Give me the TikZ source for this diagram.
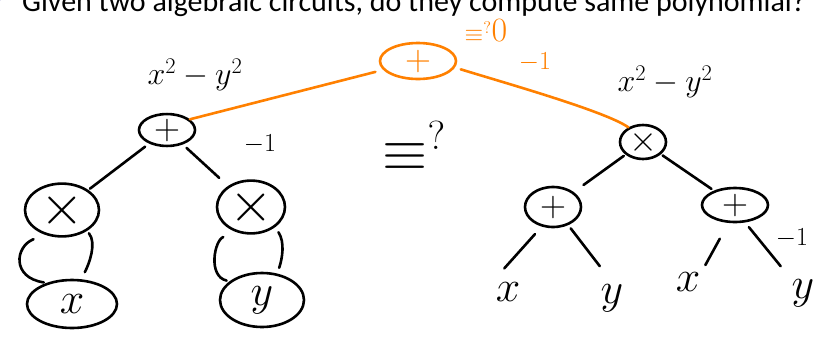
\RequirePackage{fix-cm}
\documentclass[tikz,border=0pt]{standalone}
\usepackage{amsmath}
\usepackage{amssymb}
\usepackage{xcolor}
\usepackage{fontspec}
\newfontfamily\slidefont{Carlito}
\usetikzlibrary{shapes.geometric, positioning, calc}

\definecolor{penorange}{RGB}{255,128,0}
\definecolor{bulletblue}{RGB}{50,50,150}

\tikzset{
  gate/.style={draw, ellipse, line width=2.6pt, inner sep=0pt, font=\fontsize{36}{36}\selectfont},
  wire/.style={line width=2.6pt, line cap=round},
  leaf/.style={inner sep=2pt, font=\fontsize{44}{44}\selectfont},
  poly/.style={inner sep=0pt, font=\fontsize{32}{32}\selectfont},
  weight/.style={inner sep=0pt, font=\fontsize{26}{26}\selectfont}
}

\begin{document}
\begin{tikzpicture}[x=1pt, y=-1pt]
\useasboundingbox (0,0) rectangle (814,338);

% slide line, cut at the top
\fill[bulletblue] (-10,-10) -- (4,-2) -- (-10,6) -- cycle;
\node[anchor=base west, inner sep=0pt, font=\slidefont\fontsize{30}{30}\selectfont] (question) at (22,11)
  {Given two algebraic circuits, do they compute same polynomial?};

% left circuit: x*x + (-1) y*y
\node[gate, minimum width=56, minimum height=30] (lplus) at (167,130) {$+$};
\node[poly] (lpoly) at (195,75) {$x^2-y^2$};
\node[gate, minimum width=74, minimum height=44, font=\fontsize{56}{56}\selectfont] (ltimesx) at (62,210) {$\times$};
\node[gate, minimum width=68, minimum height=40, font=\fontsize{56}{56}\selectfont] (ltimesy) at (251,207) {$\times$};
\node[gate, minimum width=90, minimum height=48, font=\fontsize{44}{44}\selectfont] (lx) at (72,304) {$x$};
\node[gate, minimum width=84, minimum height=54, font=\fontsize{44}{44}\selectfont] (ly) at (262,300) {$y$};
\node[weight] (lminus) at (260,144) {$-1$};

\draw[wire, shorten <=5pt, shorten >=2pt] (lplus) -- (ltimesx);
\draw[wire, shorten <=5pt, shorten >=12pt] (lplus) -- (ltimesy);
\draw[wire, shorten <=12pt, shorten >=3pt] (ltimesx.235) .. controls +(-30,12) and +(-35,-5) .. (lx.140);
\draw[wire, shorten <=3pt, shorten >=8pt] (ltimesx.320) .. controls +(10,12) and +(8,-15) .. (lx.70);
\draw[wire, shorten <=14pt, shorten >=3pt] (ltimesy.240) .. controls +(-22,8) and +(-22,-5) .. (ly.150);
\draw[wire, shorten <=6pt, shorten >=6pt] (ltimesy.320) .. controls +(10,15) and +(5,-15) .. (ly.60);

% middle
\node[inner sep=0pt, font=\fontsize{58}{58}\selectfont] (equiv) at (414,146) {$\equiv^{?}$};

% right circuit: (x+y)(x-y)
\node[gate, minimum width=46, minimum height=34] (rtimes) at (643,142) {$\times$};
\node[poly] (rpoly) at (665,82) {$x^2-y^2$};
\node[gate, minimum width=56, minimum height=40] (rplusa) at (553,207) {$+$};
\node[gate, minimum width=66, minimum height=34] (rplusb) at (735,205) {$+$};
\node[leaf] (rxa) at (508,292) {$x$};
\node[leaf] (rya) at (612,298) {$y$};
\node[leaf] (rxb) at (688,282) {$x$};
\node[leaf] (ryb) at (803,293) {$y$};
\node[weight] (rminus) at (792,238) {$-1$};

\draw[wire, shorten <=2pt, shorten >=12pt] (rtimes) -- (rplusa);
\draw[wire, shorten <=2pt, shorten >=3pt] (rtimes) -- (rplusb);
\draw[wire, shorten <=10pt, shorten >=16pt] (rplusa.240) -- (rxa.north west);
\draw[wire, shorten <=4pt, shorten >=20pt] (rplusa.310) -- (rya.north);
\draw[wire, shorten <=18pt, shorten >=6pt] (rplusb.250) -- (rxb.north east);
\draw[wire, shorten <=6pt, shorten >=14pt] (rplusb.300) -- (ryb.north west);

% difference of the two outputs
\node[gate, draw=penorange, text=penorange, minimum width=76, minimum height=36] (oplus) at (418,61) {$+$};
\node[inner sep=0pt, text=penorange] (ozero) at (486,31)
  {{\fontsize{24}{24}\selectfont$\equiv^{?}$}{\fontsize{34}{34}\selectfont$0$}};
\node[weight, text=penorange] (ominus) at (535,62) {$-1$};

\draw[wire, penorange, shorten <=8pt] (oplus) -- (lplus.25);
\draw[wire, penorange, shorten <=6pt] (oplus.-10) .. controls +(45,14) and +(-22,-16) .. (rtimes.135);
\end{tikzpicture}
\end{document}
